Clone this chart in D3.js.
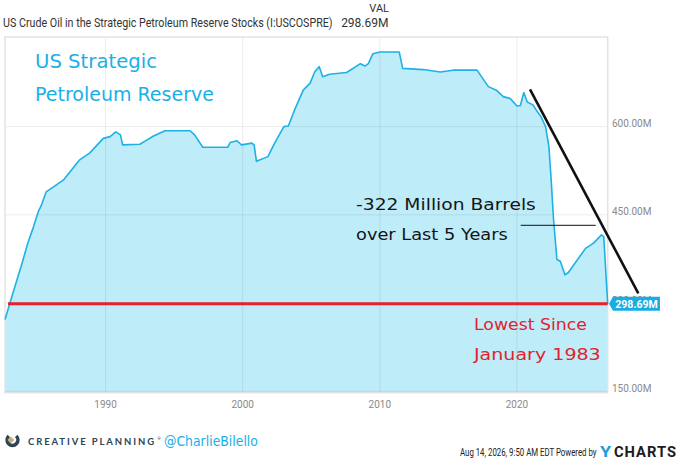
<!DOCTYPE html>
<html>
<head>
<meta charset="utf-8">
<script src="https://cdn.jsdelivr.net/npm/d3@7"></script>
<style>
  body { margin: 0; background: #fff; }
  svg { display: block; font-family: Roboto, 'Noto Sans', sans-serif; }
  .hand { font-family: 'Segoe Print', 'Comic Sans MS', 'DejaVu Sans', sans-serif; }
</style>
</head>
<body>
<svg width="680" height="460"></svg>
<script>
// SPR stock, million barrels
const dates = [
  '1982-09-01', '1983-04-01', '1983-12-01', '1984-05-01', '1984-10-01', '1985-02-01',
  '1985-05-01', '1985-09-01', '1986-12-01', '1988-02-01', '1988-11-01', '1989-11-01',
  '1990-05-01', '1990-10-01', '1991-02-01', '1991-04-01', '1992-07-01', '1993-01-01',
  '1993-07-01', '1994-05-01', '1996-03-01', '1996-07-01', '1997-02-01', '1998-12-01',
  '1999-02-01', '1999-08-01', '1999-12-01', '2000-09-01', '2000-11-01', '2001-01-01',
  '2001-11-01', '2002-05-01', '2003-01-01', '2003-05-01', '2003-11-01', '2004-06-01',
  '2004-12-01', '2005-04-01', '2005-08-01', '2005-11-01', '2006-05-01', '2007-08-01',
  '2008-08-01', '2008-12-01', '2009-03-01', '2009-07-01', '2010-01-01', '2011-06-01',
  '2011-09-01', '2013-03-01', '2014-06-01', '2015-05-01', '2017-02-01', '2017-12-01',
  '2018-07-01', '2019-01-01', '2019-07-01', '2020-01-01', '2020-04-01', '2020-07-01',
  '2020-10-01', '2021-03-01', '2021-06-01', '2021-10-01', '2022-02-01', '2022-05-01',
  '2022-07-01', '2022-09-01', '2022-12-01', '2023-03-01', '2023-07-01', '2023-10-01',
  '2024-05-01', '2025-01-01', '2025-08-01', '2026-03-01', '2026-05-01', '2026-08-14'
];
const values = [
  272, 317, 368, 402, 430, 455,
  467, 489, 509, 543, 555, 580,
  583, 591, 586, 569, 570, 577,
  584, 593, 593, 586, 565, 565,
  573, 576, 569, 572, 569, 541,
  549, 572, 600, 601, 631, 662,
  674, 693, 702, 685, 689, 692,
  707, 703, 707, 724, 727, 727,
  699, 697, 693, 696, 696, 668,
  662, 651, 648, 635, 636, 658,
  642, 637, 628, 617, 600, 566,
  509, 442, 374, 371, 348, 352,
  371, 393, 402, 416, 413, 298.69
];

const yTicks = [150, 300, 450, 600];
const xTickYears = [1990, 2000, 2010, 2020];
const lastValue = 298.69;
const lastLabel = '298.69M';

const svg = d3.select('svg');
const parse = d3.timeParse('%Y-%m-%d');
const data = dates.map((d, i) => ({ date: parse(d), value: values[i] }));

const plot = { left: 5, right: 607.7, top: 37, bottom: 392.7 };

const xScale = d3.scaleTime()
  .domain([parse('1982-09-01'), parse('2026-08-14')])
  .range([plot.left, plot.right]);

const yScale = d3.scaleLinear()
  .domain([147.6, 752.4])
  .range([plot.bottom, plot.top]);

// squeeze a text horizontally so it spans w pixels (the source fonts are narrower)
const fitText = (parent, txt, x, y, w, attrs) => {
  const t = parent.append('text').attr('x', 0).attr('y', 0).text(txt);
  Object.entries(attrs).forEach(([k, v]) => t.attr(k, v));
  const natural = t.node().getBBox().width;
  t.attr('transform', `translate(${x},${y}) scale(${w / natural},1)`);
  return t;
};

// header
fitText(svg, 'US Crude Oil in the Strategic Petroleum Reserve Stocks (I:USCOSPRE)', 3, 26.5, 330,
  { 'font-size': 12, fill: '#333' });
svg.append('text')
  .attr('x', 389).attr('y', 12)
  .attr('text-anchor', 'end')
  .attr('font-size', 11).attr('fill', '#333')
  .text('VAL');
svg.append('text')
  .attr('x', 388.5).attr('y', 26.5)
  .attr('text-anchor', 'end')
  .attr('font-size', 12).attr('fill', '#333')
  .text(lastLabel);

// area + line
const area = d3.area()
  .x(d => xScale(d.date))
  .y0(plot.bottom)
  .y1(d => yScale(d.value));

const line = d3.line()
  .x(d => xScale(d.date))
  .y(d => yScale(d.value));

svg.append('path')
  .datum(data)
  .attr('d', area)
  .attr('fill', '#bfecf9');

// grid
const grid = svg.append('g').attr('stroke', '#000').attr('stroke-opacity', 0.08);
grid.selectAll('line.h').data(yTicks).enter().append('line')
  .attr('x1', plot.left).attr('x2', plot.right)
  .attr('y1', d => yScale(d)).attr('y2', d => yScale(d));
grid.selectAll('line.v').data(xTickYears).enter().append('line')
  .attr('y1', plot.top).attr('y2', plot.bottom)
  .attr('x1', d => xScale(new Date(d, 0, 1))).attr('x2', d => xScale(new Date(d, 0, 1)));

// frame
svg.append('rect')
  .attr('x', plot.left).attr('y', plot.top)
  .attr('width', plot.right - plot.left).attr('height', plot.bottom - plot.top)
  .attr('fill', 'none').attr('stroke', '#e3e3e3').attr('stroke-width', 1.5);

svg.append('path')
  .datum(data)
  .attr('d', line)
  .attr('fill', 'none')
  .attr('stroke', '#1eb1e6')
  .attr('stroke-width', 1.6)
  .attr('stroke-linejoin', 'round');

// axes labels
svg.append('g').selectAll('text').data(yTicks).enter().append('text')
  .attr('x', 612).attr('y', d => yScale(d) + 0.5)
  .attr('font-size', 10).attr('fill', '#8a8a8a')
  .text(d => d3.format('.2f')(d) + 'M');

svg.append('g').selectAll('text').data(xTickYears).enter().append('text')
  .attr('x', d => xScale(new Date(d, 0, 1))).attr('y', 408.3)
  .attr('text-anchor', 'middle')
  .attr('font-size', 10).attr('fill', '#8a8a8a')
  .text(d => d);

// red "lowest since" line
svg.append('line')
  .attr('x1', plot.left + 3).attr('x2', plot.right)
  .attr('y1', yScale(lastValue)).attr('y2', yScale(lastValue))
  .attr('stroke', '#e8202a').attr('stroke-width', 3);

// value badge (drawn over the 300.00M label, as in the source)
const by = yScale(lastValue);
svg.append('path')
  .attr('d', `M609,${by} L613,${by - 7} H660 V${by + 7} H613 Z`)
  .attr('fill', '#19ade4');
svg.append('text')
  .attr('x', 636.5).attr('y', by + 4)
  .attr('text-anchor', 'middle')
  .attr('font-size', 10.5).attr('font-weight', 'bold').attr('fill', '#fff')
  .text(lastLabel);

// annotation lines
svg.append('line')
  .attr('x1', 530).attr('y1', 89.3)
  .attr('x2', 638.3).attr('y2', 293.3)
  .attr('stroke', '#111').attr('stroke-width', 2.6);
svg.append('line')
  .attr('x1', 520.7).attr('x2', 595.7)
  .attr('y1', 225.3).attr('y2', 225.3)
  .attr('stroke', '#111').attr('stroke-width', 1);

// handwritten notes
const note = (txt, x, y, w, size, color) =>
  fitText(svg, txt, x, y, w, { class: 'hand', 'font-size': size, fill: color });

note('US Strategic', 35, 67.5, 122, 20, '#19b0e8');
note('Petroleum Reserve', 35, 101, 179, 20, '#19b0e8');
note('-322 Million Barrels', 356, 210, 180, 16.5, '#151515');
note('over Last 5 Years', 356, 240, 152, 16.5, '#151515');
note('Lowest Since', 474, 329.5, 113, 16.5, '#e3222c');
note('January 1983', 474, 359.5, 128, 16.5, '#e3222c');

// footer: logo
const logo = svg.append('g').attr('transform', 'translate(12.5,440)');
logo.append('path')
  .attr('d', d3.arc()({ innerRadius: 3.6, outerRadius: 7.2, startAngle: 0.75, endAngle: 2 * Math.PI - 0.75 }))
  .attr('fill', '#2c4557');
logo.append('rect')
  .attr('x', -2.4).attr('y', -2.4).attr('width', 4.8).attr('height', 4.8)
  .attr('transform', 'rotate(45) translate(-1.2,1.2)')
  .attr('fill', '#c9ad7f');

fitText(svg, 'CREATIVE PLANNING', 28, 445.3, 128,
  { 'font-family': 'Lato, Roboto, sans-serif', 'font-size': 10, 'font-weight': 'bold',
    fill: '#2c4557', 'letter-spacing': 2 });
svg.append('text')
  .attr('x', 157.5).attr('y', 439.5)
  .attr('font-size', 4).attr('fill', '#2c4557')
  .text('®');
note('@CharlieBilello', 164, 446, 94, 14, '#19b0e8');

fitText(svg, 'Aug 14, 2026, 9:50 AM EDT Powered by', 460, 456, 137,
  { 'font-size': 10, fill: '#222' });
fitText(svg, 'Y', 600, 457.3, 12,
  { 'font-size': 15, 'font-weight': 'bold', fill: '#1a9de0' });
fitText(svg, 'CHARTS', 614, 457.3, 63,
  { 'font-size': 15, 'font-weight': 'bold', fill: '#1b1b1b', 'letter-spacing': 1 });
</script>
</body>
</html>
